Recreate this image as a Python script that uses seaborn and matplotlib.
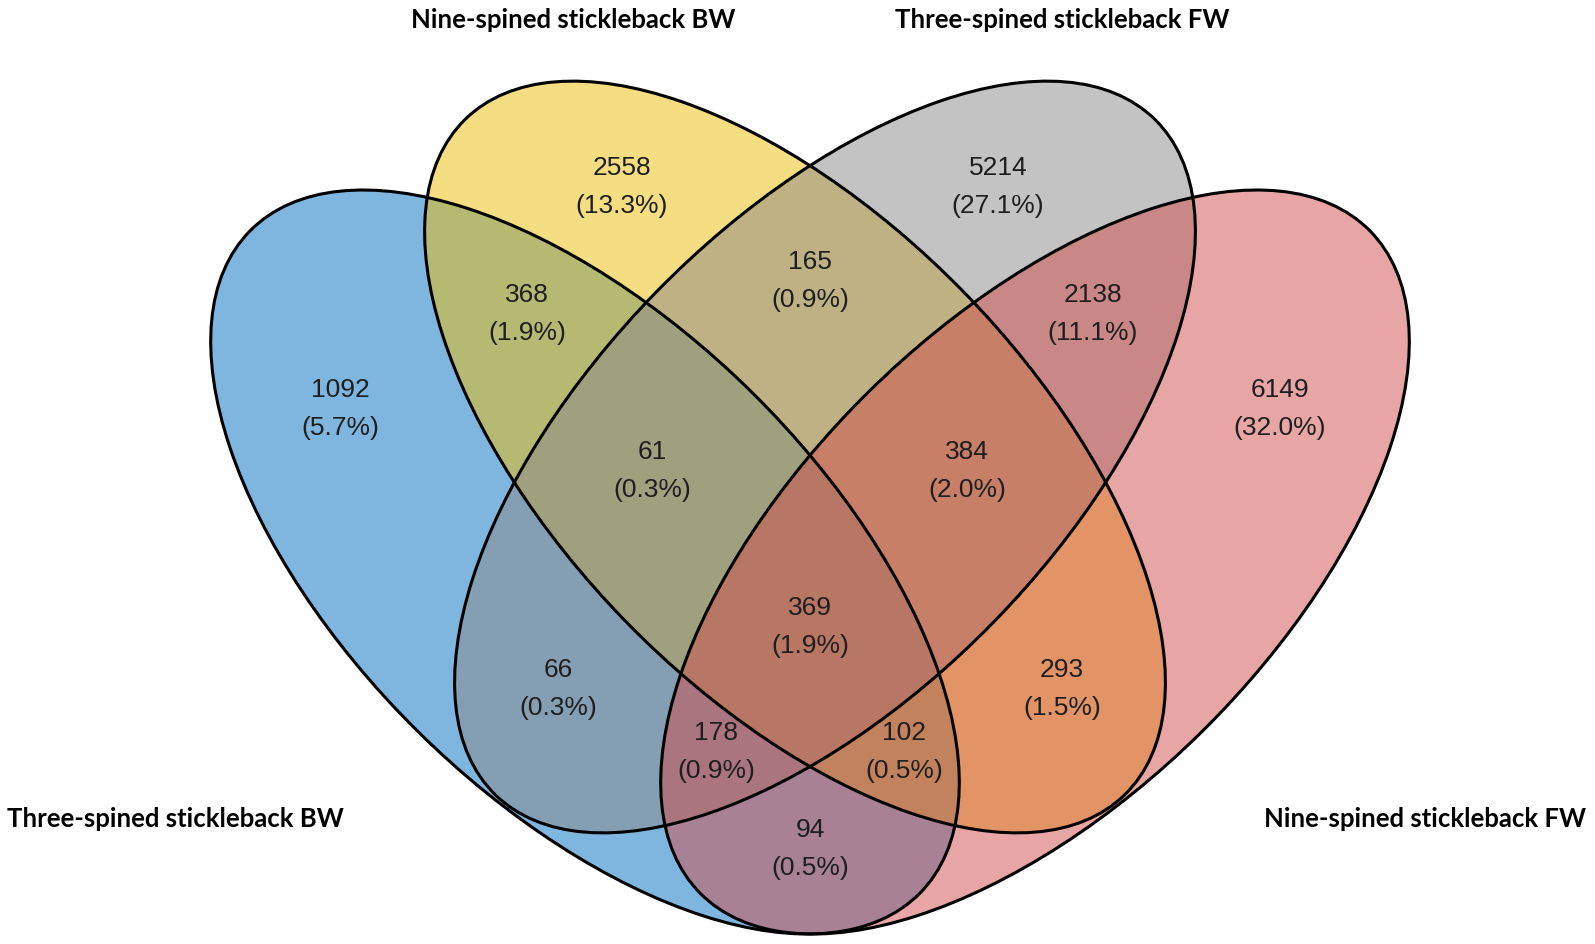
import numpy as np
import matplotlib
matplotlib.use("Agg")
import matplotlib.pyplot as plt
from matplotlib.patches import Ellipse
import seaborn as sns

# ---------------- data ----------------
set_names = ["Three-spined stickleback BW", "Nine-spined stickleback BW",
             "Three-spined stickleback FW", "Nine-spined stickleback FW"]
set_colors = ["#006EC1", "#EDBD05", "#898989", "#D14D4D"]

region_keys = ["A", "B", "C", "D", "AB", "BC", "CD", "AC", "BD", "AD",
               "ABC", "BCD", "ACD", "ABD", "ABCD"]
region_counts = [1092, 2558, 5214, 6149, 368, 165, 2138, 66, 293, 94,
                 61, 384, 178, 102, 369]

# ---------------- layout (pixel space) ----------------
W, H = 1595, 944
ellipses = [  # cx, cy, semi-major, semi-minor, angle (deg, y downward)
    (585, 562, 471, 238, 44.7),
    (795, 457, 472, 236, 45.7),
    (825, 457, 472, 236, -45.7),
    (1035, 562, 471, 238, -44.7),
]
label_pos = {
    "A": (340, 390), "B": (622, 168), "C": (998, 168), "D": (1280, 390),
    "AB": (527, 295), "BC": (810, 262), "CD": (1093, 295),
    "AC": (558, 670), "BD": (1062, 670), "AD": (810, 830),
    "ABC": (652, 452), "BCD": (967, 452), "ACD": (716, 733),
    "ABD": (904, 733), "ABCD": (810, 608),
}
set_label_pos = [(175, 819), (573, 20), (1062, 20), (1425, 819)]

sns.set_theme(style="white")
plt.rcParams["font.family"] = ["Liberation Sans", "DejaVu Sans"]

fig = plt.figure(figsize=(W / 100, H / 100), dpi=100)
ax = fig.add_axes([0, 0, 1, 1])
ax.set_xlim(0, W)
ax.set_ylim(H, 0)
ax.axis("off")

for (cx, cy, a, b, ang), col in zip(ellipses, set_colors):
    ax.add_patch(Ellipse((cx, cy), 2 * a, 2 * b, angle=ang,
                         facecolor=col, alpha=0.5, edgecolor="none", zorder=1))
for (cx, cy, a, b, ang) in ellipses:
    ax.add_patch(Ellipse((cx, cy), 2 * a, 2 * b, angle=ang,
                         facecolor="none", edgecolor="black", lw=2.2, zorder=2))

total = sum(region_counts)
for key, n in zip(region_keys, region_counts):
    x, y = label_pos[key]
    ax.text(x, y, f"{n}", ha="center", va="center", fontsize=19,
            color="#1e1e1e", zorder=3)
    ax.text(x, y + 38, f"({n / total * 100:.1f}%)", ha="center", va="center",
            fontsize=19, color="#1e1e1e", zorder=3)

for name, (x, y) in zip(set_names, set_label_pos):
    ax.text(x, y, name, ha="center", va="center", fontsize=18.5,
            fontweight="bold", family=["Lato", "DejaVu Sans"], color="black")

fig.savefig("out.png", dpi=100)
